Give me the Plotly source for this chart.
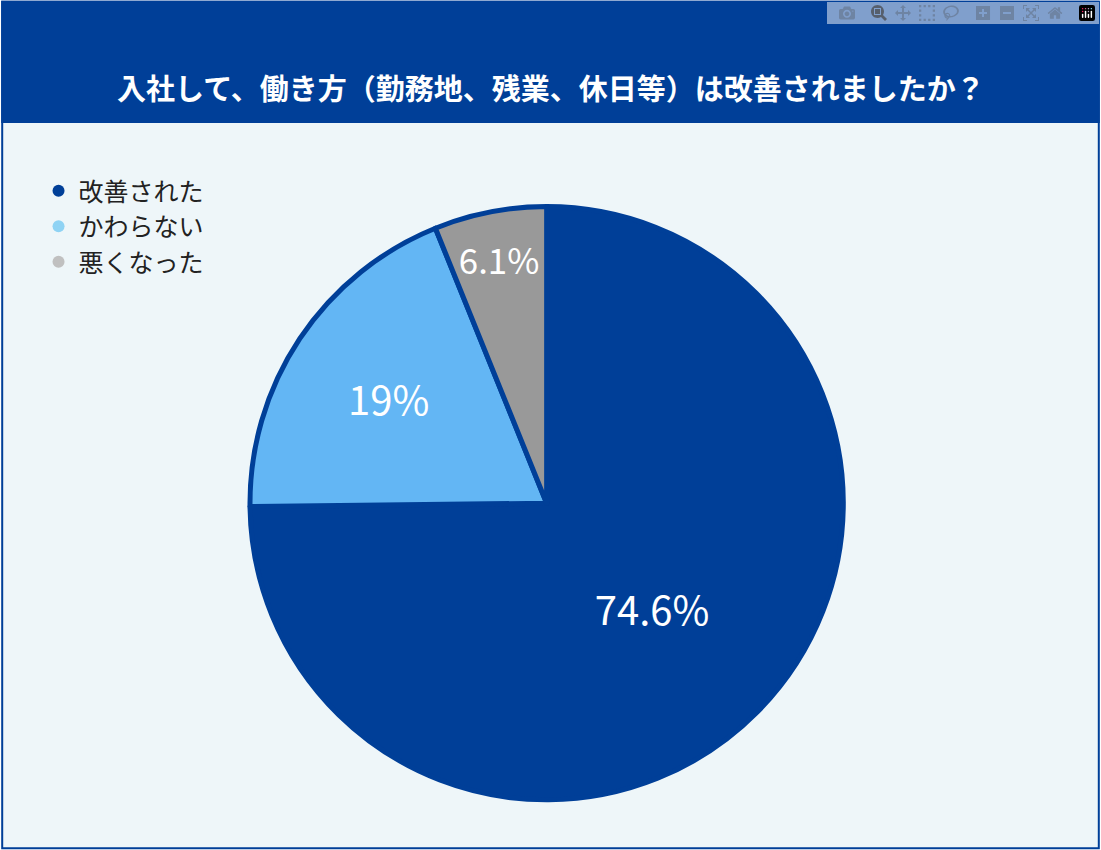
import plotly.graph_objects as go

labels = ["改善された", "かわらない", "悪くなった"]
values = [74.6, 19.0, 6.1]
text_labels = ["74.6%", "19%", "6.1%"]
slice_colors = ["#003f98", "#63b6f4", "#999999"]
legend_colors = ["#003f98", "#8fd3f4", "#c0c0c0"]
title = "<b>入社して、働き方（勤務地、残業、休日等）は改善されましたか？</b>"

fig = go.Figure()
fig.add_trace(go.Pie(
    labels=labels, values=values, text=text_labels, textinfo="text",
    textposition="inside",
    sort=False, direction="clockwise", rotation=0,
    marker=dict(colors=slice_colors, line=dict(color="#003f98", width=5)),
    textfont=dict(color="white", size=40, family="Noto Sans CJK JP"),
    insidetextorientation="horizontal",
    domain=dict(x=[0.226, 0.767], y=[0.059, 0.757]),
    showlegend=False, hoverinfo="label+value",
))
for name, c in zip(labels, legend_colors):
    fig.add_trace(go.Scatter(x=[None], y=[None], mode="markers", name=name,
                             marker=dict(color=c, size=24, symbol="circle")))

fig.add_shape(type="rect", xref="paper", yref="paper", x0=0.002, x1=0.998, y0=0.002, y1=0.998,
              line=dict(color="#003f98", width=2), fillcolor="#eef6f9", layer="below")
fig.add_shape(type="rect", xref="paper", yref="paper", x0=0.002, x1=0.998, y0=1 - 122 / 850, y1=0.998,
              line=dict(color="#003f98", width=2), fillcolor="#003f98", layer="below")
fig.add_annotation(text=title, xref="paper", yref="paper", x=0.5, y=1 - 64 / 850,
                   showarrow=False, font=dict(color="white", size=29, family="Noto Sans CJK JP"))

fig.update_layout(
    width=1101, height=850, margin=dict(l=0, r=0, t=0, b=0),
    paper_bgcolor="white", plot_bgcolor="rgba(0,0,0,0)",
    xaxis=dict(visible=False), yaxis=dict(visible=False),
    legend=dict(x=0.035, y=1 - 168 / 850, xanchor="left", yanchor="top",
                font=dict(size=25, family="Noto Sans CJK JP", color="#222"),
                bgcolor="rgba(0,0,0,0)", itemsizing="constant", tracegroupgap=0),
)
fig.write_html("out.html",
               post_script="document.body.style.margin='0';document.body.style.overflow='hidden';")
